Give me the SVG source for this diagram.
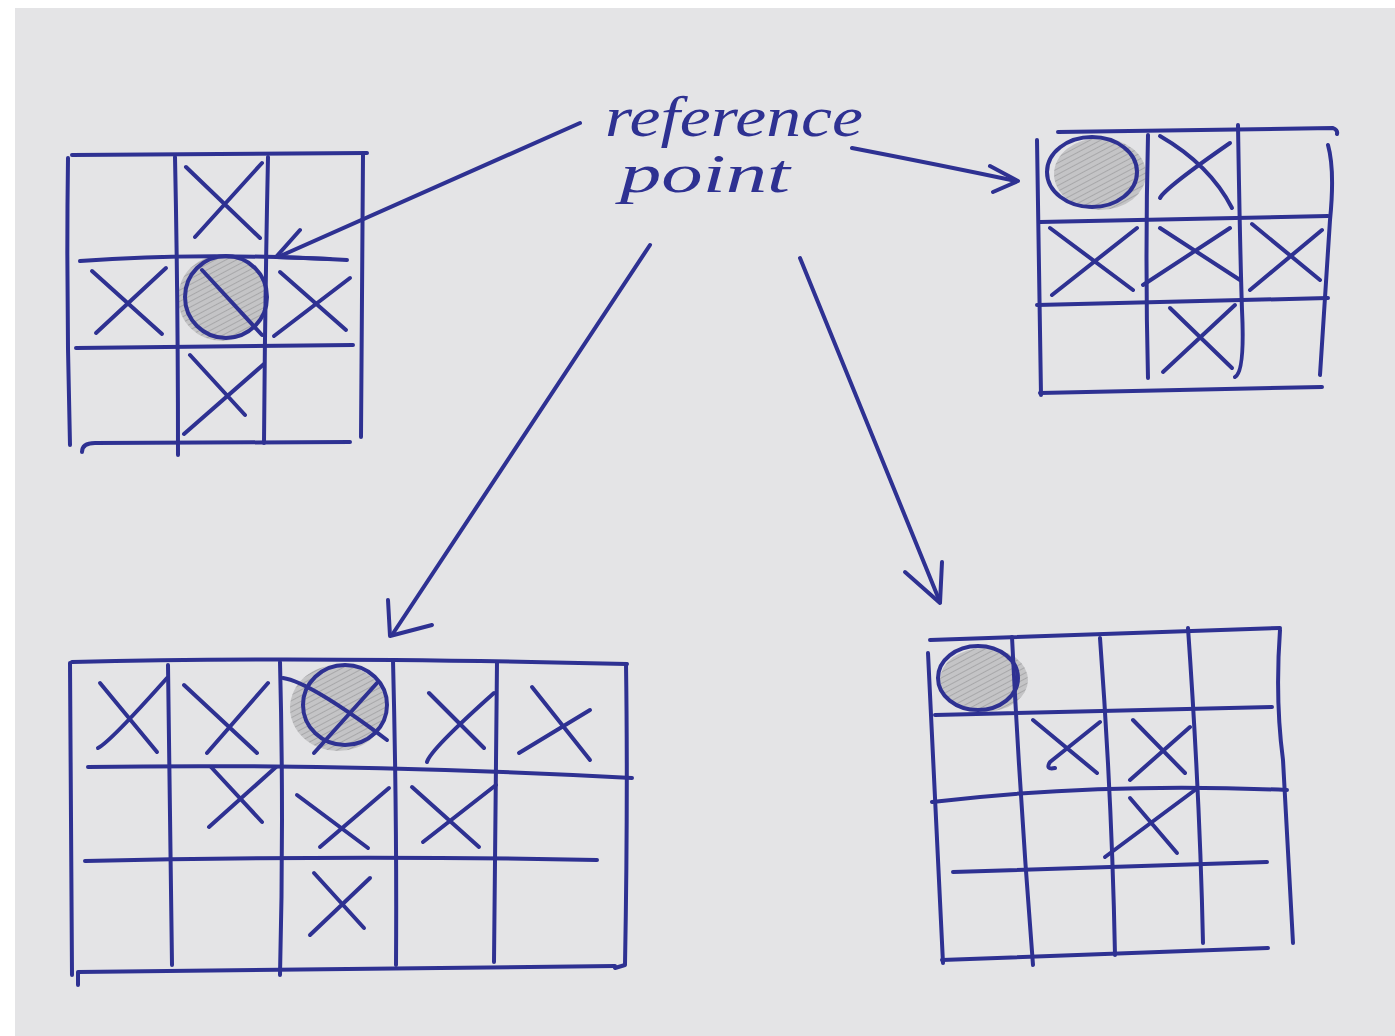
<svg xmlns="http://www.w3.org/2000/svg" width="1395" height="1036" viewBox="0 0 1395 1036">
<style>
.ink{fill:none;stroke:#2e3192;stroke-width:4;stroke-linecap:round;stroke-linejoin:round}
.shade{fill:url(#hatch);stroke:none}
.lbl{font-family:"Liberation Serif",serif;font-style:italic;fill:#2e3192}
</style>
<defs>
<pattern id="hatch" width="5" height="5" patternUnits="userSpaceOnUse" patternTransform="rotate(-28)">
<rect width="5" height="5" fill="#c0c0c2"/>
<line x1="0" y1="0" x2="5" y2="0" stroke="#9a9a9c" stroke-width="1.6"/>
</pattern>
</defs>
<rect width="1395" height="1036" fill="#ffffff"/>
<rect x="15" y="8" width="1380" height="1028" fill="#e4e4e6"/>

<g id="label">
<text class="lbl" x="605" y="136" font-size="56" textLength="258" lengthAdjust="spacingAndGlyphs">reference</text>
<text class="lbl" x="620" y="192" font-size="54" textLength="170" lengthAdjust="spacingAndGlyphs">point</text>
</g>

<g id="grid-3x3-center">
<ellipse class="shade" cx="222" cy="298" rx="44" ry="43" opacity="0.9"/>
<ellipse class="ink" cx="226" cy="297" rx="41" ry="41"/>
<path class="ink" d="M72 155 L367 153"/>
<path class="ink" d="M68 158 Q66 300 70 445"/>
<path class="ink" d="M175 157 Q178 300 178 455"/>
<path class="ink" d="M268 157 Q265 300 264 443"/>
<path class="ink" d="M363 155 L361 437"/>
<path class="ink" d="M80 261 Q200 252 347 260"/>
<path class="ink" d="M76 348 L353 345"/>
<path class="ink" d="M82 452 Q82 443 95 443 L350 442"/>
<path class="ink" d="M186 167 L260 238 M195 237 L262 163"/>
<path class="ink" d="M92 271 L162 334 M96 333 L166 268"/>
<path class="ink" d="M202 270 L262 335"/>
<path class="ink" d="M280 272 L346 330 M274 336 L350 278"/>
<path class="ink" d="M190 355 L245 415 M184 434 L264 364"/>
</g>

<g id="grid-3x3-corner">
<ellipse class="shade" cx="1100" cy="174" rx="46" ry="36" opacity="0.9"/>
<ellipse class="ink" cx="1092" cy="172" rx="45" ry="35"/>
<path class="ink" d="M1058 132 L1333 128 Q1338 130 1337 134"/>
<path class="ink" d="M1037 140 L1041 395"/>
<path class="ink" d="M1148 135 Q1145 260 1148 378"/>
<path class="ink" d="M1238 125 Q1240 250 1242 310 Q1245 372 1235 377"/>
<path class="ink" d="M1328 145 Q1335 170 1330 220 L1320 375"/>
<path class="ink" d="M1040 222 L1328 216"/>
<path class="ink" d="M1037 305 L1328 298"/>
<path class="ink" d="M1040 393 L1322 387"/>
<path class="ink" d="M1160 136 Q1210 165 1232 208 M1160 198 Q1165 188 1230 143"/>
<path class="ink" d="M1050 228 L1133 290 M1052 295 L1137 228"/>
<path class="ink" d="M1160 228 L1240 280 M1143 285 L1230 228"/>
<path class="ink" d="M1252 224 L1320 280 M1250 290 L1322 230"/>
<path class="ink" d="M1170 308 L1232 368 M1163 372 L1235 305"/>
</g>

<g id="grid-5x3">
<ellipse class="shade" cx="338" cy="708" rx="48" ry="43" opacity="0.9"/>
<ellipse class="ink" cx="345" cy="705" rx="42" ry="40"/>
<path class="ink" d="M72 662 Q300 656 627 664"/>
<path class="ink" d="M70 663 L72 975"/>
<path class="ink" d="M168 665 L172 965"/>
<path class="ink" d="M280 662 Q284 820 280 975"/>
<path class="ink" d="M393 660 Q397 820 396 965"/>
<path class="ink" d="M497 662 L494 962"/>
<path class="ink" d="M626 664 Q628 800 625 965 L615 968"/>
<path class="ink" d="M88 767 Q350 763 632 778"/>
<path class="ink" d="M85 861 Q350 855 597 860"/>
<path class="ink" d="M78 985 L78 972 L615 966"/>
<path class="ink" d="M100 683 L157 752 M98 748 Q110 742 167 678"/>
<path class="ink" d="M184 685 L257 753 M207 753 L268 683"/>
<path class="ink" d="M283 678 Q310 682 387 740 M314 753 L377 683"/>
<path class="ink" d="M429 693 L484 748 M427 762 Q430 750 494 693"/>
<path class="ink" d="M532 687 L590 760 M519 753 L590 710"/>
<path class="ink" d="M211 767 L262 822 M209 827 L276 767"/>
<path class="ink" d="M297 795 L368 848 M320 847 L389 788"/>
<path class="ink" d="M412 787 L479 847 M423 842 L496 785"/>
<path class="ink" d="M314 873 L364 928 M310 935 L370 878"/>
</g>

<g id="grid-4x4">
<ellipse class="shade" cx="984" cy="680" rx="44" ry="32" opacity="0.9"/>
<ellipse class="ink" cx="978" cy="678" rx="40" ry="32"/>
<path class="ink" d="M930 640 L1280 628"/>
<path class="ink" d="M928 653 Q935 800 943 963"/>
<path class="ink" d="M1012 637 Q1020 800 1033 965"/>
<path class="ink" d="M1100 638 Q1112 800 1115 955"/>
<path class="ink" d="M1188 628 Q1200 800 1203 943"/>
<path class="ink" d="M1280 630 Q1275 700 1283 760 L1293 943"/>
<path class="ink" d="M935 715 L1272 707"/>
<path class="ink" d="M932 802 Q1100 782 1287 790"/>
<path class="ink" d="M953 872 L1267 862"/>
<path class="ink" d="M942 960 L1268 948"/>
<path class="ink" d="M1033 720 L1097 773 M1055 768 Q1045 770 1050 762 L1100 722"/>
<path class="ink" d="M1133 720 L1185 773 M1130 780 L1190 727"/>
<path class="ink" d="M1130 798 L1177 853 M1105 857 L1195 790"/>
</g>

<g id="connectors">
<path class="ink" d="M580 123 L278 257"/>
<path class="ink" d="M300 230 L276 257 L330 259"/>
<path class="ink" d="M852 148 Q940 165 1016 181"/>
<path class="ink" d="M990 166 L1018 181 L993 192"/>
<path class="ink" d="M650 245 L392 635"/>
<path class="ink" d="M388 600 L390 636 L432 625"/>
<path class="ink" d="M800 258 L940 602"/>
<path class="ink" d="M905 572 L940 603 L942 562"/>
</g>
</svg>
